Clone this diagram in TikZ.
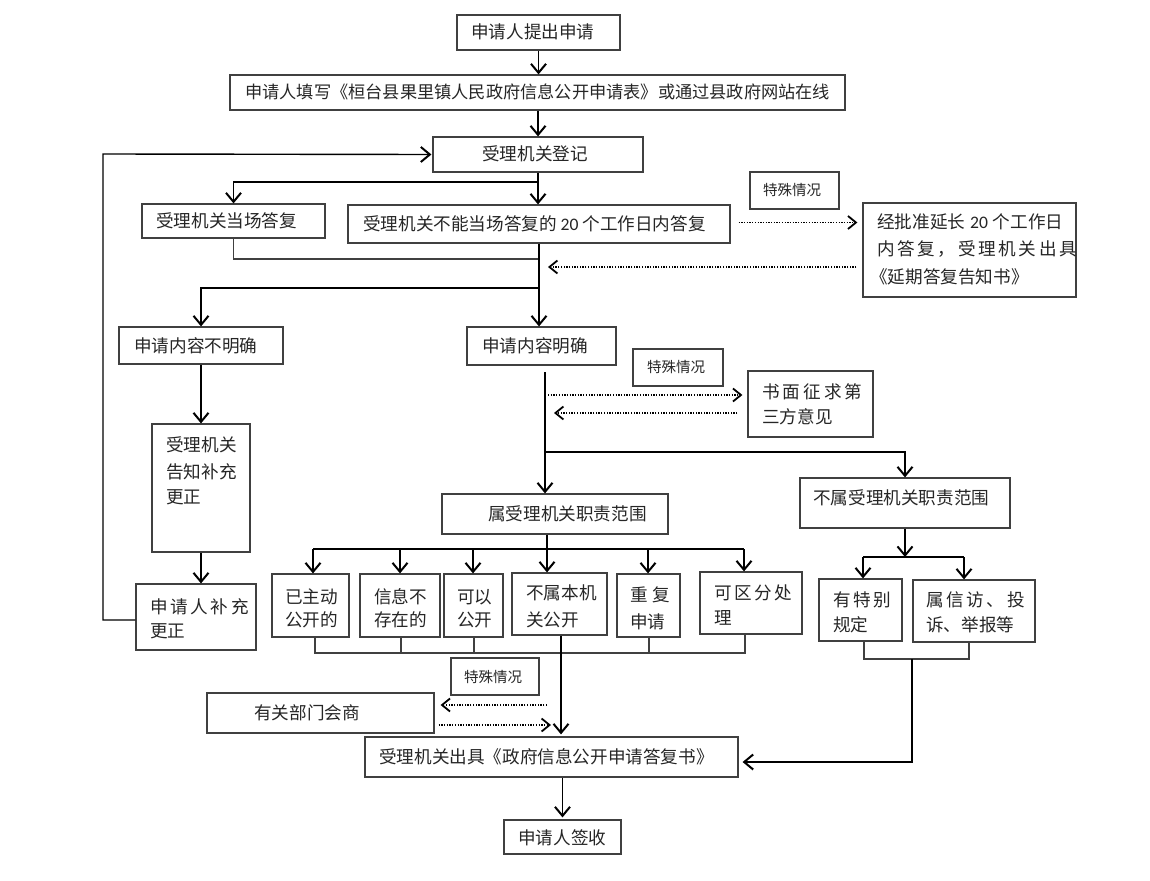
\documentclass[tikz,border=0pt]{standalone}
\usepackage{fontspec}
\newfontfamily\cjk{Noto Sans CJK SC}
\newfontfamily\lat{Carlito}
\usetikzlibrary{arrows.meta}
\newcommand\spr[2]{\makebox[#1][s]{#2}}
\newcommand\bx[5]{\node[box, minimum width={(#4-#2)*1pt}, minimum height={(#5-#3)*1pt}] (#1) at ({(#2+#4)/2},{(#3+#5)/2}) {};}
\tikzset{
 box/.style={draw=black!75, line width=1.2pt, inner sep=0pt, fill=white},
 txt/.style={inner sep=0pt, anchor=west, text=black!85, font=\cjk\fontsize{17.6}{20}\selectfont},
 stxt/.style={inner sep=0pt, anchor=west, text=black!85, font=\cjk\fontsize{14.5}{16}\selectfont},
 arr/.style={line width=1.7pt, -{Straight Barb[length=9pt,width=15pt,line width=2pt]}},
 thickline/.style={line width=1.6pt},
 conn/.style={line width=1.1pt, draw=black!75},
 dotarr/.style={line width=1.4pt, dash pattern=on 1.3pt off 1.4pt, -{Straight Barb[length=8pt,width=13pt,line width=1.8pt]}},
}
\begin{document}
\begin{tikzpicture}[x=1pt,y=-1pt]
\fill[white] (0,0) rectangle (1150,880);
\useasboundingbox (0,0) rectangle (1150,880);

% boxes and texts
\bx{n1}{457}{15}{620}{50}
\node[txt] (t1) at (471,32) {申请人提出申请};
\bx{n2}{230}{75}{845}{110}
\node[txt, font=\cjk\fontsize{17.2}{20}\selectfont] (t2) at (245,92) {申请人填写《桓台县果里镇人民政府信息公开申请表》或通过县政府网站在线};
\bx{n3}{433}{137}{643}{172}
\node[txt] (t3) at (482,154) {受理机关登记};
\bx{n4}{142}{204}{325}{238}
\node[txt] (t4) at (156,221) {受理机关当场答复};
\bx{n5}{348}{205}{730}{243}
\node[txt] (t5) at (363,224) {受理机关不能当场答复的 {\lat 20} 个工作日内答复};
\bx{sp1}{750}{172}{839}{209}
\node[stxt] (s1) at (763,190) {特殊情况};
\bx{n7}{863}{203}{1076}{297}
\node[txt] (t7a) at (877,222) {\spr{186pt}{经批准延长 {\lat 20} 个工作日}};
\node[txt] (t7b) at (877,249) {\spr{186pt}{内 答 复 ， 受 理 机 关 出 具}};
\node[txt] (t7c) at (870,277) {《延期答复告知书》};
\bx{n8}{119}{327}{283}{364}
\node[txt] (t8) at (134,346) {申请内容不明确};
\bx{n9}{467}{327}{616}{365}
\node[txt] (t9) at (482,346) {申请内容明确};
\bx{sp2}{633}{349}{723}{386}
\node[stxt] (s2) at (647,367) {特殊情况};
\bx{n11}{748}{371}{873}{437}
\node[txt] (t11a) at (762,392) {\spr{100pt}{书 面 征 求 第}};
\node[txt] (t11b) at (762,417) {三方意见};
\bx{n12}{152}{424}{250}{552}
\node[txt] (t12a) at (166,445) {受理机关};
\node[txt] (t12b) at (166,472) {告知补充};
\node[txt] (t12c) at (166,497) {更正};
\bx{n13}{442}{494}{668}{534}
\node[txt] (t13) at (488,514) {属受理机关职责范围};
\bx{n14}{800}{478}{1010}{528}
\node[txt] (t14) at (813,498) {不属受理机关职责范围};
\bx{b1}{272}{574}{349}{637}
\node[txt] (tb1a) at (285,597) {已主动};
\node[txt] (tb1b) at (285,620) {公开的};
\bx{b2}{360}{574}{440}{637}
\node[txt] (tb2a) at (374,597) {信息不};
\node[txt] (tb2b) at (374,620) {存在的};
\bx{b3}{444}{574}{503}{637}
\node[txt] (tb3a) at (457,597) {可以};
\node[txt] (tb3b) at (457,620) {公开};
\bx{b4}{512}{573}{607}{635}
\node[txt] (tb4a) at (526,593) {不属本机};
\node[txt] (tb4b) at (526,620) {关公开};
\bx{b5}{617}{574}{680}{637}
\node[txt] (tb5a) at (630,595) {\spr{40pt}{重 复}};
\node[txt] (tb5b) at (630,622) {申请};
\bx{b6}{700}{572}{802}{634}
\node[txt] (tb6a) at (714,593) {\spr{78pt}{可 区 分 处}};
\node[txt] (tb6b) at (714,618) {理};
\bx{n16}{136}{584}{256}{650}
\node[txt] (t16a) at (150,607) {\spr{94pt}{申 请 人 补 充}};
\node[txt] (t16b) at (150,631) {更正};
\bx{p1}{819}{579}{902}{641}
\node[txt] (tp1a) at (833,600) {\spr{57pt}{有 特 别}};
\node[txt] (tp1b) at (833,625) {规定};
\bx{p2}{913}{580}{1035}{642}
\node[txt] (tp2a) at (926,600) {\spr{98pt}{属 信 访 、 投}};
\node[txt] (tp2b) at (926,625) {诉、举报等};
\bx{sp3}{451}{658}{539}{695}
\node[stxt] (s3) at (464,677) {特殊情况};
\bx{n19}{207}{693}{434}{733}
\node[txt] (t19) at (254,713) {有关部门会商};
\bx{n20}{365}{737}{738}{777}
\node[txt] (t20) at (379,757) {受理机关出具《政府信息公开申请答复书》};
\bx{n21}{504}{820}{621}{854}
\node[txt] (t21) at (518,838) {申请人签收};

% coordinates
\coordinate (xa) at (538,0);
\coordinate (j1) at (538,182);
\coordinate (j2) at (539,259);
\coordinate (j3) at (539,288);
\coordinate (d3) at (548,267);
\coordinate (lp) at (103,154);
\coordinate (v1) at (545,372);
\coordinate (d4) at (548,395);
\coordinate (d5) at (554,413);
\coordinate (v2) at (545,452);
\coordinate (j4) at (547,549);
\coordinate (h1) at (313,549);
\coordinate (h2) at (400,549);
\coordinate (h3) at (473,549);
\coordinate (h5) at (648,549);
\coordinate (h6) at (744,549);
\coordinate (g1) at (315,653);
\coordinate (g2) at (401,653);
\coordinate (g3) at (474,653);
\coordinate (g5) at (649,653);
\coordinate (g6) at (745,653);
\coordinate (k1) at (561,0);
\coordinate (d6) at (547,705);
\coordinate (d7) at (551,725);
\coordinate (q1) at (905,557);
\coordinate (q2) at (863,557);
\coordinate (q3) at (964,557);
\coordinate (r1) at (864,659);
\coordinate (r2) at (969,659);
\coordinate (r3) at (912,659);
\coordinate (r4) at (912,762);

% connectors
\draw[arr] (n1.south) -- (n1.south |- n2.north);
\draw[arr] (n2.south -| xa) -- (n3.north -| xa);
\draw[arr] (n3.south) -- (j1) -| (n4.north);
\draw[arr] (j1) -- (j1 |- n5.north);
\draw[conn] (n4.south) |- (j2);
\draw[thickline] (n5.south -| j2) -- (j3);
\draw[arr] (j3) -| (n8.north);
\draw[arr] (j3) -- (j3 |- n9.north);
\draw[dotarr] ([xshift=8pt,yshift=1.5pt]n5.east) -- ([xshift=-5pt,yshift=1.5pt]n5.east -| n7.west);
\draw[dotarr] ([xshift=-6pt]n7.west |- d3) -- (d3);
\draw[arr] (n8.south) -- (n8.south |- n12.north);
\draw[arr] (n12.south) -- (n12.south |- n16.north);
\draw[arr, line width=1.4pt] ([yshift=-3pt]n16.west) -| (lp) -- ([xshift=-1pt]n3.west);
\draw[arr] (v1) -- (v1 |- n13.north);
\draw[dotarr] (d4) -- ([xshift=-5pt]n11.west |- d4);
\draw[dotarr] ([xshift=-10pt]n11.west |- d5) -- (d5);
\draw[arr, line width=1.3pt] (v2) -| (n14.north);
\draw[thickline] (j4 |- n13.south) -- (j4);
\draw[line width=1.4pt] (h1) -- (h6);
\draw[arr] (h1) -- (h1 |- b1.north);
\draw[arr] (h2) -- (h2 |- b2.north);
\draw[arr] (h3) -- (h3 |- b3.north);
\draw[arr] (j4) -- (j4 |- b4.north);
\draw[arr] (h5) -- (h5 |- b5.north);
\draw[arr] (h6) -- (h6 |- b6.north);
\draw[conn] (g1 |- b1.south) -- (g1) -- (g6) -- (g6 |- b6.south);
\draw[conn] (g2 |- b2.south) -- (g2);
\draw[conn] (g3 |- b3.south) -- (g3);
\draw[conn] (g5 |- b5.south) -- (g5);
\draw[arr] (k1 |- b4.south) -- ([yshift=2pt]k1 |- n20.north);
\draw[dotarr] (d6) -- ([xshift=6pt]n19.east |- d6);
\draw[dotarr] ([xshift=4pt]n19.east |- d7) -- (d7);
\draw[arr] (n14.south) -- (q1);
\draw[line width=1.4pt] (q2) -- (q3);
\draw[arr] (q2) -- (q2 |- p1.north);
\draw[arr] (q3) -- (q3 |- p2.north);
\draw[conn] (r1 |- p1.south) -- (r1) -- (r2) -- (r2 |- p2.south);
\draw[arr, line width=1.4pt] (r3) -- (r4) -- ([xshift=4pt]n20.east |- r4);
\draw[arr] (n21.north |- n20.south) -- ([yshift=2pt]n21.north);
\end{tikzpicture}
\end{document}
